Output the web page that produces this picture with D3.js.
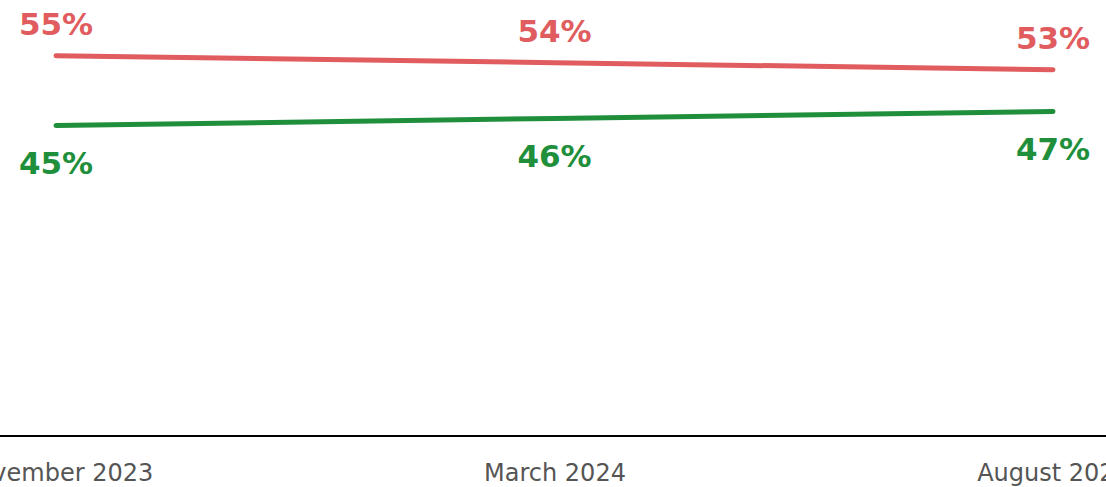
<!DOCTYPE html>
<html><head><meta charset="utf-8">
<script src="https://cdn.jsdelivr.net/npm/d3@7"></script>
<style>html,body{margin:0;padding:0;background:#fff;overflow:hidden}</style>
</head><body>
<svg id="chart" width="1106" height="487"></svg>
<script>
const categories = ["November 2023", "March 2024", "August 2024"];
const redValues = [55, 54, 53];
const greenValues = [45, 46, 47];
const seriesNames = ["red", "green"];

const W = 1106, H = 487;
const svg = d3.select("#chart");
const x = d3.scalePoint().domain(categories).range([56, 1053]);
const y = d3.scaleLinear().domain([0, 63]).range([439, 0]);

const series = [
  {name: "red", values: redValues, color: "#e05c5e", dy: -21},
  {name: "green", values: greenValues, color: "#1f8f3c", dy: 49}
];

// axis
const xAxis = d3.axisBottom(x).tickSize(0).tickPadding(0);
const ax = svg.append("g").attr("transform", "translate(0,436)").call(xAxis);
ax.select(".domain").attr("d", `M0,0H${W}`).attr("stroke", "#000").attr("stroke-width", 2);
ax.selectAll(".tick text")
  .attr("y", 45).attr("dy", null)
  .attr("fill", "#555")
  .style("font-family", "DejaVu Sans, Verdana, sans-serif")
  .style("font-size", "24px");

const line = d3.line().x((d, i) => x(categories[i])).y(d => y(d));

series.forEach(s => {
  svg.append("path").datum(s.values)
    .attr("d", line)
    .attr("fill", "none")
    .attr("stroke", s.color)
    .attr("stroke-width", 5)
    .attr("stroke-linecap", "round");
  svg.append("g").selectAll("text").data(s.values).join("text")
    .attr("x", (d, i) => x(categories[i]))
    .attr("y", d => y(d) + s.dy)
    .attr("text-anchor", "middle")
    .attr("fill", s.color)
    .style("font-family", "DejaVu Sans, Verdana, sans-serif")
    .style("font-weight", "bold")
    .style("font-size", "31px")
    .text(d => d + "%");
});
</script>
</body></html>
